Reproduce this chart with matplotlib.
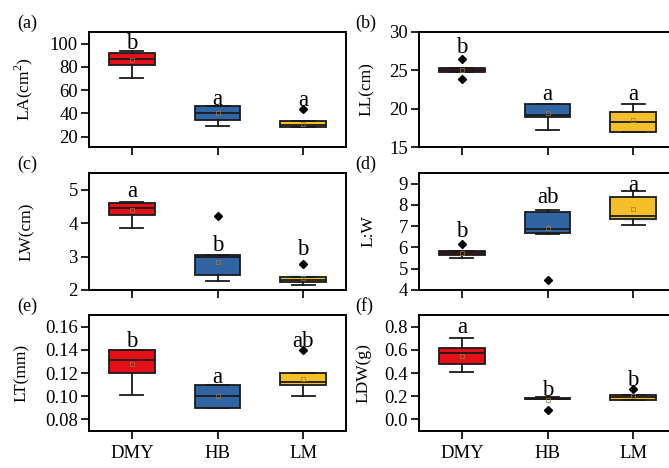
import matplotlib
matplotlib.use("Agg")
import matplotlib.pyplot as plt

plt.rcParams['font.family'] = ['Liberation Serif', 'DejaVu Serif']
plt.rcParams['mathtext.fontset'] = 'custom'
plt.rcParams['mathtext.rm'] = 'Liberation Serif'

groups = ["DMY", "HB", "LM"]
colors = ["#e3101a", "#3064a3", "#f4bf29"]

# per panel: [q1, median, q3, whislo, whishi] for DMY, HB, LM
la_stats = [[81.5, 87.0, 91.6, 70.0, 93.6], [34.5, 40.0, 46.0, 29.5, 46.0], [28.4, 30.0, 33.8, 28.4, 33.8]]
la_fliers = [[], [], [43.7]]
la_means = [86.0, 40.0, 31.0]
la_letters = ["b", "a", "a"]
la_letter_y = [95.0, 47.4, 46.5]

ll_stats = [[24.75, 25.0, 25.25, 24.75, 25.25], [18.9, 19.2, 20.6, 17.2, 20.6], [16.9, 18.2, 19.6, 16.9, 20.6]]
ll_fliers = [[26.5, 23.9], [], []]
ll_means = [25.0, 19.5, 18.5]
ll_letters = ["b", "a", "a"]
ll_letter_y = [27.3, 21.1, 21.1]

lw_stats = [[4.25, 4.45, 4.6, 3.85, 4.64], [2.45, 3.0, 3.05, 2.26, 3.05], [2.25, 2.3, 2.4, 2.15, 2.4]]
lw_fliers = [[], [4.2], [2.78]]
lw_means = [4.4, 2.85, 2.35]
lw_letters = ["a", "b", "b"]
lw_letter_y = [4.78, 3.18, 3.06]

lwr_stats = [[5.64, 5.75, 5.83, 5.51, 5.83], [6.7, 6.89, 7.67, 6.65, 7.75], [7.33, 7.5, 8.38, 7.07, 8.67]]
lwr_fliers = [[6.17], [4.47], []]
lwr_means = [5.75, 6.9, 7.8]
lwr_letters = ["b", "ab", "a"]
lwr_letter_y = [6.47, 8.08, 8.64]

lt_stats = [[0.12, 0.131, 0.14, 0.101, 0.14], [0.09, 0.10, 0.11, 0.09, 0.11], [0.11, 0.112, 0.12, 0.10, 0.12]]
lt_fliers = [[], [], [0.14]]
lt_means = [0.128, 0.10, 0.115]
lt_letters = ["b", "a", "ab"]
lt_letter_y = [0.142, 0.1117, 0.142]

ldw_stats = [[0.474, 0.575, 0.612, 0.405, 0.705], [0.175, 0.18, 0.185, 0.175, 0.19], [0.165, 0.19, 0.21, 0.165, 0.21]]
ldw_fliers = [[], [0.085], [0.263]]
ldw_means = [0.55, 0.17, 0.2]
ldw_letters = ["a", "b", "b"]
ldw_letter_y = [0.748, 0.2, 0.286]

panels = [
    ("(a)", "LA(cm$^{2}$)", la_stats, la_fliers, la_means, la_letters, la_letter_y, (11, 110), [20, 40, 60, 80, 100], None, -0.21),
    ("(b)", "LL(cm)", ll_stats, ll_fliers, ll_means, ll_letters, ll_letter_y, (15, 30), [15, 20, 25, 30], None, -0.171),
    ("(c)", "LW(cm)", lw_stats, lw_fliers, lw_means, lw_letters, lw_letter_y, (2, 5.5), [2, 3, 4, 5], None, -0.21),
    ("(d)", "L:W", lwr_stats, lwr_fliers, lwr_means, lwr_letters, lwr_letter_y, (4, 9.5), [4, 5, 6, 7, 8, 9], None, -0.165),
    ("(e)", "LT(mm)", lt_stats, lt_fliers, lt_means, lt_letters, lt_letter_y, (0.07, 0.17), [0.08, 0.10, 0.12, 0.14, 0.16], "%.2f", -0.231),
    ("(f)", "LDW(g)", ldw_stats, ldw_fliers, ldw_means, ldw_letters, ldw_letter_y, (-0.1, 0.9), [0.0, 0.2, 0.4, 0.6, 0.8], "%.1f", -0.185),
]

fig = plt.figure(figsize=(6.69, 4.68), dpi=100)
W, H = 669, 468
col_x = [89, 419]
ax_w = 257
rows = [(32, 147), (173, 290), (315, 431)]
fs = 13.5
dark = "#1a1a1a"

for i, (tag, ylabel, stats, fliers, means, letters, letter_y, ylim, yticks, fmt, lab_x) in enumerate(panels):
    r, c = divmod(i, 2)
    top, bot = rows[r]
    ax = fig.add_axes([col_x[c] / W, 1 - bot / H, ax_w / W, (bot - top) / H])
    bxp_stats = []
    for j in range(3):
        q1, med, q3, lo, hi = stats[j]
        bxp_stats.append(dict(q1=q1, med=med, q3=q3, whislo=lo, whishi=hi,
                              fliers=fliers[j], mean=means[j], label=groups[j]))
    res = ax.bxp(bxp_stats, positions=[1, 2, 3], widths=0.53, patch_artist=True,
                 showmeans=True, showfliers=True,
                 boxprops=dict(edgecolor=dark, linewidth=1.3),
                 medianprops=dict(color=dark, linewidth=1.3),
                 whiskerprops=dict(color=dark, linewidth=1.3),
                 capprops=dict(color=dark, linewidth=1.3),
                 flierprops=dict(marker="D", markersize=4.5, markerfacecolor="black", markeredgecolor="black"),
                 meanprops=dict(marker="s", markersize=2.5, markerfacecolor="none", markeredgecolor="#9a7a50", markeredgewidth=0.5))
    for patch, col in zip(res["boxes"], colors):
        patch.set_facecolor(col)
    ax.set_xlim(0.5, 3.5)
    ax.set_ylim(*ylim)
    ax.set_yticks(yticks)
    if fmt:
        ax.set_yticklabels([fmt % v for v in yticks])
    ax.set_xticks([1, 2, 3])
    if r == 2:
        ax.set_xticklabels(groups, fontsize=14)
    else:
        ax.set_xticklabels([])
    ax.tick_params(axis="both", direction="out", length=6, width=1.2, labelsize=fs, pad=2)
    ax.tick_params(axis="x", pad=4)
    for s in ax.spines.values():
        s.set_linewidth(1.4)
    ax.set_ylabel(ylabel, fontsize=12.5)
    ax.yaxis.set_label_coords(lab_x, 0.5)
    for j in range(3):
        ax.text(j + 1, letter_y[j], letters[j], ha="center", va="baseline", fontsize=16.5)
    ax.text(-0.28 if c == 0 else -0.249, 1.075, tag, transform=ax.transAxes, fontsize=13,
            ha="left", va="center")

fig.savefig("out.png", dpi=100)
